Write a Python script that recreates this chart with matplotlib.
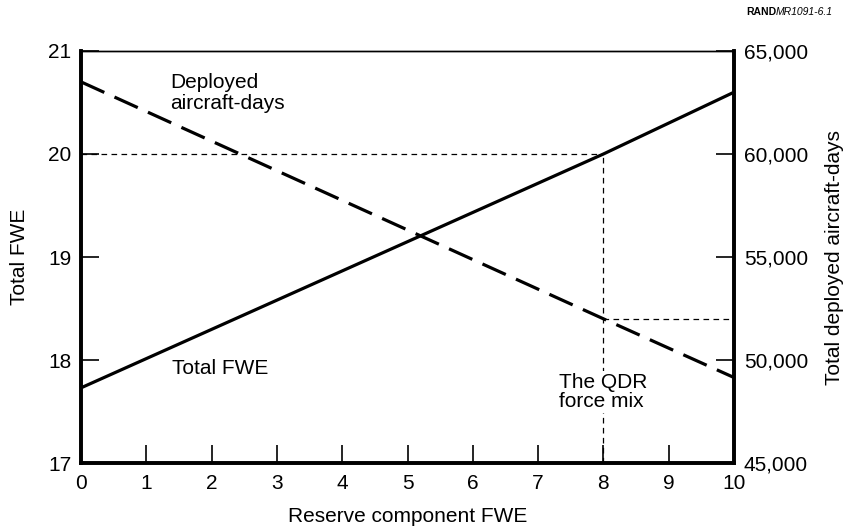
import matplotlib
matplotlib.use('Agg')
import matplotlib.pyplot as plt
from matplotlib.ticker import FuncFormatter

plt.rcParams['font.family'] = ['Liberation Sans', 'DejaVu Sans']

# values (x = reserve component FWE)
reserve_fwe = [0, 8, 10]
total_fwe = [17.73, 20.0, 20.60]
aircraft_days = [63500, 52000, 49150]

qdr_x = 8
qdr_fwe = 20.0
qdr_days = 52000

x_ticks = list(range(0, 11))
fwe_ticks = [17, 18, 19, 20, 21]
days_ticks = [45000, 50000, 55000, 60000, 65000]


def draw_plot():
    fig = plt.figure(figsize=(8.44, 5.31), dpi=100)
    ax = fig.add_axes([0.096, 0.128, 0.7737, 0.776])
    ax2 = ax.twinx()

    ax.set_xlim(0, 10)
    ax.set_ylim(17, 21)
    ax2.set_ylim(45000, 65000)

    # total FWE (left scale)
    ax.plot(reserve_fwe, total_fwe, color='black', lw=2.3, solid_capstyle='butt')

    # deployed aircraft-days (right scale)
    ax2.plot(reserve_fwe, aircraft_days, color='black', lw=2.3,
             dashes=(8, 3.5), dash_capstyle='butt')

    # QDR reference lines
    ref = dict(color='black', lw=0.9, dashes=(4.5, 3.5))
    ax.plot([0, qdr_x], [qdr_fwe, qdr_fwe], **ref)
    ax.plot([qdr_x, qdr_x], [17, qdr_fwe], **ref)
    ax2.plot([qdr_x, 10], [qdr_days, qdr_days], **ref)

    box = dict(facecolor='white', edgecolor='none', pad=1)
    ax2.text(1.37, 62960, 'Deployed\naircraft-days', fontsize=15,
             ha='left', va='center', linespacing=1.15)
    ax2.text(1.4, 49600, 'Total FWE', fontsize=15, ha='left', va='center')
    ax2.text(7.32, 48450, 'The QDR\nforce mix', fontsize=15,
             ha='left', va='center', linespacing=1.05, bbox=box)

    ax.set_xticks(x_ticks)
    ax.set_yticks(fwe_ticks)
    ax2.set_yticks(days_ticks)
    ax2.yaxis.set_major_formatter(FuncFormatter(lambda v, p: f'{int(v):,}'))

    ax.tick_params(axis='x', direction='in', length=13, width=1.2,
                   labelsize=15, pad=8)
    ax.tick_params(axis='y', direction='in', length=13, width=1.2,
                   labelsize=15, pad=7)
    ax2.tick_params(axis='y', direction='in', length=13, width=1.2,
                    labelsize=15, pad=7)

    for a in (ax, ax2):
        a.spines['left'].set_linewidth(2.6)
        a.spines['bottom'].set_linewidth(2.6)
        a.spines['right'].set_linewidth(2.6)
        a.spines['top'].set_linewidth(1.0)

    ax.set_xlabel('Reserve component FWE', fontsize=15, labelpad=10)
    ax.set_ylabel('Total FWE', fontsize=15, labelpad=14)
    ax2.set_ylabel('Total deployed aircraft-days', fontsize=15, labelpad=12)

    # figure id in the top-right corner
    t = fig.text(833 / 844, 1 - 12 / 531, 'MR1091-6.1', fontsize=7.5,
                 style='italic', ha='right', va='center')
    fig.canvas.draw()
    bb = t.get_window_extent()
    fig.text(bb.x0 / fig.bbox.width, 1 - 12 / 531, 'RAND', fontsize=7.5,
             weight='bold', ha='right', va='center')

    fig.savefig('out.png', dpi=100)


if __name__ == '__main__':
    draw_plot()
